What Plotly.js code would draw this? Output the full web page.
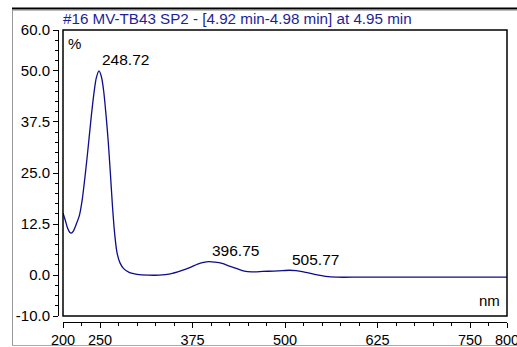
<!DOCTYPE html>
<html>
<head>
<meta charset="utf-8">
<script src="https://cdn.plot.ly/plotly-3.0.1.min.js"></script>
<style>
html,body{margin:0;padding:0;background:#fff;}
#chart{width:517px;height:347px;}
</style>
</head>
<body>
<div id="chart"></div>
<script>
// Wavelength (nm) and absorbance (%)
const wavelengths = [200,203,206,209,211,214,218,222,226,230,234,238,242,245,248.72,252,255,258,261,264,267,270,273,277,282,290,300,315,330,345,360,372,382,390,396.75,405,415,425,435,445,455,470,485,497,505.77,515,525,540,555,570,600,650,700,750,800];
const absorbance  = [15.2,13.5,11.6,10.5,10.3,10.8,12.5,14.5,18.5,24.5,31.3,38.5,44.8,48.3,50.0,48.5,45.0,39.5,33.0,25.0,16.5,9.8,5.5,3.0,1.6,0.6,0.2,0.0,0.0,0.3,1.1,1.9,2.7,3.1,3.3,3.2,2.9,2.2,1.6,1.0,0.8,0.9,1.0,1.1,1.2,1.1,0.8,0.2,-0.3,-0.5,-0.5,-0.5,-0.5,-0.5,-0.5];

const peakNm   = [248.72, 396.75, 505.77];
const peakVal  = [50.0, 3.3, 1.2];
const peakText = ["248.72", "396.75", "505.77"];

const yTickVals = [-10, 0, 12.5, 25, 37.5, 50, 60];
const yTickText = ["-10.0", "0.0", "12.5", "25.0", "37.5", "50.0", "60.0"];
const xTickVals = [200, 250, 375, 500, 625, 750, 800];
const xTickText = ["200", "250", "375", "500", "625", "750", "800"];

const titleText = "#16 MV-TB43 SP2 - [4.92 min-4.98 min] at 4.95 min";

// geometry (px)
const W = 517, H = 347;
const mL = 58, mR = 10, mT = 30, mB = 25;
const pw = W - mL - mR, ph = H - mT - mB;
const xd0 = 5 / pw;          // plot left edge at 63px
const yd0 = 6 / ph;          // plot bottom at 316px
const px = v => (v - mL) / pw;
const py = v => (H - mB - v) / ph;

const font = {family: "Liberation Sans, Arial, sans-serif", size: 15, color: "#000"};
const xFont = {family: "Liberation Sans, Arial, sans-serif", size: 14.5, color: "#000"};
const labelFont = {family: "Liberation Sans, Arial, sans-serif", size: 15.5, color: "#000"};

const trace = {
  x: wavelengths, y: absorbance, type: "scatter", mode: "lines",
  line: {color: "#0c0c8c", width: 1.3, shape: "spline", smoothing: 0.7},
  hoverinfo: "skip"
};

const annotations = peakNm.map((n, i) => ({
  x: n, y: peakVal[i], xref: "x", yref: "y", text: peakText[i],
  showarrow: false, xanchor: "left", yanchor: "middle", xshift: 1, yshift: 11,
  font: labelFont
}));
annotations.push({x: xd0, y: 1, xref: "paper", yref: "paper", text: "%", showarrow: false,
  xanchor: "left", yanchor: "top", xshift: 3, yshift: -3, font: font});
annotations.push({x: 1, y: yd0, xref: "paper", yref: "paper", text: "nm", showarrow: false,
  xanchor: "right", yanchor: "bottom", xshift: -5, yshift: 5, font: font});

const shapes = [
  // plot frame
  {type: "rect", xref: "paper", yref: "paper", x0: xd0, x1: 1, y0: yd0, y1: 1,
   line: {color: "#000", width: 1.5}},
  // outer window frame
  {type: "line", xref: "paper", yref: "paper", x0: px(12), x1: px(517), y0: py(8.5), y1: py(8.5),
   line: {color: "#000", width: 2}},
  {type: "line", xref: "paper", yref: "paper", x0: px(12), x1: px(517), y0: py(10.5), y1: py(10.5),
   line: {color: "#bbbbbb", width: 1}},
  {type: "line", xref: "paper", yref: "paper", x0: px(12.5), x1: px(12.5), y0: py(10), y1: py(346),
   line: {color: "#999999", width: 1}},
  {type: "line", xref: "paper", yref: "paper", x0: px(12), x1: px(517), y0: py(345.5), y1: py(345.5),
   line: {color: "#aaaaaa", width: 1}}
];

const layout = {
  width: W, height: H,
  margin: {l: mL, r: mR, t: mT, b: mB, pad: 0},
  paper_bgcolor: "#fff", plot_bgcolor: "#fff",
  showlegend: false,
  font: font,
  title: {
    text: titleText, font: {family: font.family, size: 15.2, color: "#1e1e9a"},
    xref: "paper", x: xd0, xanchor: "left", yref: "container", y: 1 - 19 / H, yanchor: "middle"
  },
  xaxis: {
    domain: [xd0, 1], range: [200, 800], anchor: "free", position: 0,
    showgrid: false, zeroline: false, showline: true, linecolor: "#000", linewidth: 1,
    ticks: "outside", ticklen: 5, tickwidth: 1, tickcolor: "#000",
    tickmode: "array", tickvals: xTickVals, ticktext: xTickText,
    ticklabeloverflow: "allow",
    minor: {ticks: "outside", ticklen: 3, tick0: 200, dtick: 25, tickcolor: "#000", tickwidth: 1},
    tickfont: xFont, fixedrange: true
  },
  yaxis: {
    domain: [yd0, 1], range: [-10, 60], anchor: "free", position: 0,
    showgrid: false, zeroline: false, showline: true, linecolor: "#000", linewidth: 1,
    ticks: "outside", ticklen: 5, tickwidth: 1, tickcolor: "#000",
    tickmode: "array", tickvals: yTickVals, ticktext: yTickText,
    ticklabeloverflow: "allow",
    minor: {ticks: "outside", ticklen: 3, tick0: 0, dtick: 2.5, tickcolor: "#000", tickwidth: 1},
    tickfont: font, fixedrange: true
  },
  annotations: annotations,
  shapes: shapes
};

Plotly.newPlot("chart", [trace], layout, {displayModeBar: false, staticPlot: true});
</script>
</body>
</html>
